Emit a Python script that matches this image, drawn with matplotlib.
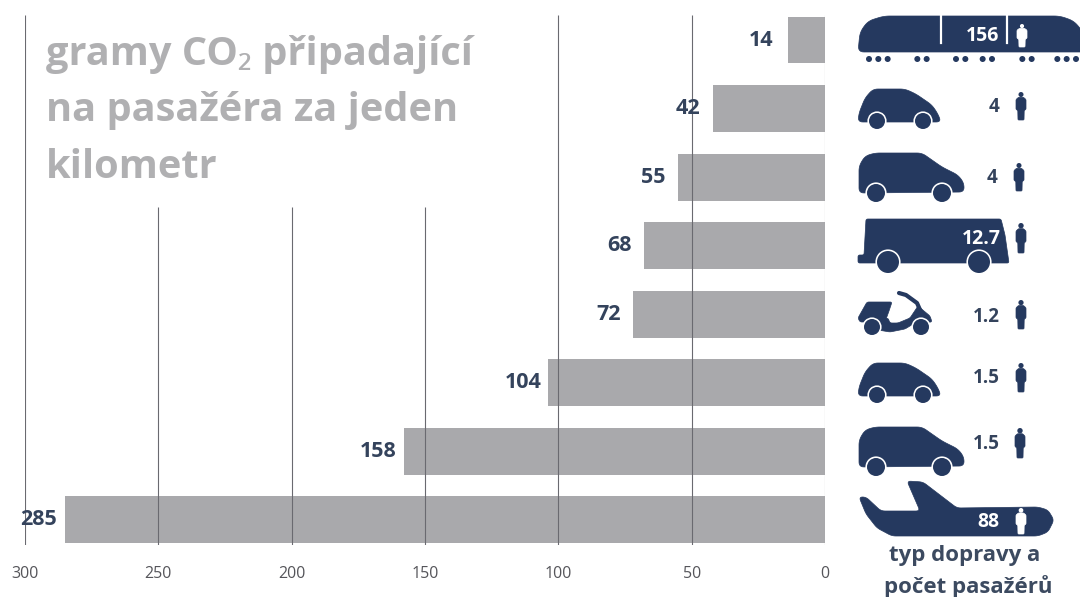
import matplotlib
matplotlib.use("Agg")
import math
import matplotlib.pyplot as plt
from matplotlib.patches import Polygon, Circle

plt.rcParams['font.family'] = ['Open Sans', 'Noto Sans', 'DejaVu Sans']

# ---------- data ----------
co2_values = [14, 42, 55, 68, 72, 104, 158, 285]
value_gaps_px = [14, 13, 13, 12, 12, 6, 7, 8]
x_ticks = [300, 250, 200, 150, 100, 50, 0]
full_grid = [300, 100, 50]
short_grid = [250, 200, 150]
title_lines = ["gramy CO₂ připadající", "na pasažéra za jeden", "kilometr"]
footer_lines = ["typ dopravy a", "počet pasažérů"]
passenger_labels = ["156", "4", "4", "12.7", "1.2", "1.5", "1.5", "88"]

NAVY = "#25395f"
GREY_BAR = "#a9a9ac"
TITLE_GREY = "#b0b0b2"
LABEL = "#34435c"

W, H = 1080, 597
fig = plt.figure(figsize=(W / 100, H / 100), dpi=100, facecolor="white")

# main chart: 800 px spanning 300..0, rows 68.5 px apart
ax = fig.add_axes([25 / W, (H - 545) / H, 800 / W, 530 / H])
rows = list(range(len(co2_values)))
ax.barh(rows, co2_values, height=0.686, color=GREY_BAR, zorder=2)
ax.set_xlim(300, 0)
ax.set_ylim(7.372, -0.365)
ax.vlines(full_grid, -0.365, 7.372, color="#6a6a70", lw=0.8, zorder=3)
ax.vlines(short_grid, 2.44, 7.372, color="#6a6a70", lw=0.8, zorder=3)
ax.vlines([0], -0.365, 7.372, color="#9a9a9f", lw=0.8, zorder=3)
for s in ax.spines.values():
    s.set_visible(False)
ax.set_yticks([])
ax.set_xticks(x_ticks)
ax.tick_params(axis="x", length=0, pad=15, labelsize=11.5, labelcolor="#55555a")
ax.patch.set_alpha(0)
for r, v, g in zip(rows, co2_values, value_gaps_px):
    ax.annotate(str(v), (v, r), xytext=(-g * 0.72, 0), textcoords="offset points",
                ha="right", va="center", fontsize=15.5, fontweight="bold",
                color=LABEL, zorder=5)

# overlay in pixel space for the title and the pictograms
ov = fig.add_axes([0, 0, 1, 1], facecolor="none")
ov.set_xlim(0, W)
ov.set_ylim(H, 0)
ov.axis("off")


def rounded(pts, radius):
    """Replace each corner with a curve cut at most `radius` px along its edges."""
    out = []
    m = len(pts)
    for i in range(m):
        p0, p1, p2 = pts[i - 1], pts[i], pts[(i + 1) % m]
        d0, d1 = math.dist(p0, p1), math.dist(p1, p2)
        a = min(radius, d0 / 2) / d0
        b = min(radius, d1 / 2) / d1
        s = (p1[0] + (p0[0] - p1[0]) * a, p1[1] + (p0[1] - p1[1]) * a)
        e = (p1[0] + (p2[0] - p1[0]) * b, p1[1] + (p2[1] - p1[1]) * b)
        for k in range(7):
            t = k / 6
            out.append(((1 - t) ** 2 * s[0] + 2 * t * (1 - t) * p1[0] + t ** 2 * e[0],
                        (1 - t) ** 2 * s[1] + 2 * t * (1 - t) * p1[1] + t ** 2 * e[1]))
    return out


def poly(pts, color=NAVY, r=3, z=6):
    ov.add_patch(Polygon(rounded(pts, r), closed=True, fc=color, ec=color, lw=0.5,
                         joinstyle="round", zorder=z))


def wheel(x, y, rad):
    ov.add_patch(Circle((x, y), rad + 1.6, fc="white", ec="none", zorder=7))
    ov.add_patch(Circle((x, y), rad, fc=NAVY, ec="none", zorder=8))


def person(cx, top, bottom, color=NAVY):
    h = bottom - top
    ov.add_patch(Circle((cx, top + 0.09 * h), 0.09 * h, fc=color, ec="none", zorder=9))
    poly([(cx - 2.5, top + 0.19 * h), (cx + 2.5, top + 0.19 * h), (cx + 5, top + 0.27 * h),
          (cx + 5, top + 0.62 * h), (cx + 3.2, top + 0.66 * h), (cx + 3, bottom),
          (cx - 3, bottom), (cx - 3.2, top + 0.66 * h), (cx - 5, top + 0.62 * h),
          (cx - 5, top + 0.27 * h)], color=color, r=1, z=9)


def count(text, x, y, color=LABEL, size=13.5):
    ov.text(x, y, text, ha="center", va="center", fontsize=size, fontweight="bold",
            color=color, zorder=10)


def small_car(dy):
    poly([(858, 122 + dy), (859, 113 + dy), (865, 98 + dy), (873, 89 + dy), (905, 89 + dy),
          (916, 94 + dy), (932, 105 + dy), (938, 114 + dy), (941, 122 + dy)], r=5)
    wheel(877, 121 + dy, 8)
    wheel(923, 121 + dy, 8)


def big_car(dy):
    poly([(859, 193 + dy), (859, 166 + dy), (865, 156 + dy), (875, 153 + dy), (922, 153 + dy),
          (942, 167 + dy), (958, 175 + dy), (964, 183 + dy), (964, 192 + dy)], r=5)
    wheel(876, 193 + dy, 9)
    wheel(942, 193 + dy, 9)


for line, y in zip(title_lines, [55, 110, 168]):
    ov.text(46, y, line, ha="left", va="center", fontsize=28.6, fontweight="bold",
            color=TITLE_GREY, zorder=10)

# train
poly([(858, 52), (860, 32), (868, 21), (884, 16), (1060, 16), (1074, 21), (1084, 33), (1086, 52)], r=6)
for x in (941, 1007):
    ov.plot([x, x], [15, 43], color="white", lw=1.6, zorder=8)
for px in [87, 115, 143, 232, 260, 348, 376, 428, 456, 547, 575, 652, 680, 708]:
    ov.add_patch(Circle((840 + px / 3, 59), 3, fc=NAVY, ec="none", zorder=7))
count(passenger_labels[0], 983, 36, "white", 14)
person(1022, 24, 47, "white")

# small car, people carrier
small_car(0)
count(passenger_labels[1], 994, 107)
person(1021, 92, 120)
big_car(0)
count(passenger_labels[2], 992, 178)
person(1019, 163, 191)

# bus
poly([(858, 263), (858, 255), (864, 255), (866, 219), (1001, 219), (1005, 235), (1009, 263)], r=2)
wheel(888, 262, 11)
wheel(979, 262, 11)
count(passenger_labels[3], 981, 239, "white", 14)
person(1021, 223, 253)

# scooter
poly([(867, 302), (892, 302), (889, 311), (885, 322), (860, 322), (858, 318)], r=2)
poly([(868, 322), (888, 318), (890, 323), (898, 323), (910, 318), (918, 306), (930, 316), (932, 322),
      (915, 323), (905, 329), (890, 332), (878, 330)], r=2)
ov.plot([899, 906, 917, 921], [293, 295, 303, 312], color=NAVY, lw=3, solid_capstyle="round", zorder=6)
wheel(872, 327, 8)
wheel(921, 327, 8)
count(passenger_labels[4], 986, 317)
person(1021, 300, 329)

# small car, people carrier
small_car(274)
count(passenger_labels[5], 986, 378)
person(1021, 363, 392)
big_car(274)
count(passenger_labels[6], 986, 444)
person(1020, 428, 458)

# plane
poly([(859, 497), (866, 497), (881, 511), (920, 511), (907, 481), (923, 482), (957, 508), (1038, 507),
      (1048, 510), (1054, 520), (1048, 532), (1038, 536), (892, 536), (877, 528), (866, 514)], r=4)
count(passenger_labels[7], 988, 522, "white", 14)
person(1021, 508, 534, "white")

for line, x, y in zip(footer_lines, [965, 968], [555, 587]):
    ov.text(x, y, line, ha="center", va="center", fontsize=16, fontweight="bold",
            color="#3c4a60", zorder=10)

fig.savefig("out.png", dpi=100, facecolor="white")
